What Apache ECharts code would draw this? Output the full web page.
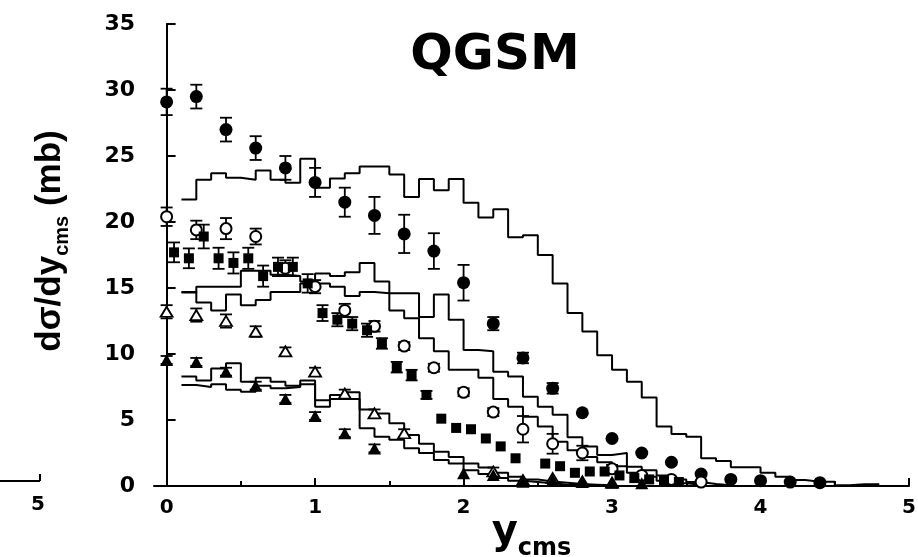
<!DOCTYPE html>
<html>
<head>
<meta charset="utf-8">
<script src="https://cdn.jsdelivr.net/npm/echarts@6/dist/echarts.min.js"></script>
<style>
  html, body { margin: 0; padding: 0; background: #fff; }
  #chart { width: 918px; height: 557px; }
</style>
</head>
<body>
<div id="chart"></div>
<script>
// data points (x, y, error)
var circX   = [0, 0.2, 0.4, 0.6, 0.8, 1.0, 1.2, 1.4, 1.6, 1.8, 2.0, 2.2, 2.4, 2.6, 2.8, 3.0, 3.2, 3.4, 3.6, 3.8, 4.0, 4.2, 4.4];
var circY   = [29.1, 29.5, 27.0, 25.6, 24.1, 23.0, 21.5, 20.5, 19.1, 17.8, 15.4, 12.3, 9.7, 7.4, 5.55, 3.6, 2.5, 1.8, 0.9, 0.5, 0.4, 0.3, 0.25];
var circErr = [1.0, 0.9, 0.9, 0.9, 0.9, 1.1, 1.1, 1.4, 1.45, 1.35, 1.35, 0.5, 0.4, 0.4, 0, 0, 0, 0, 0, 0, 0, 0, 0];

var openCircX   = [0, 0.2, 0.4, 0.6, 0.8, 1.0, 1.2, 1.4, 1.6, 1.8, 2.0, 2.2, 2.4, 2.6, 2.8, 3.0, 3.2, 3.4, 3.6];
var openCircY   = [20.4, 19.4, 19.5, 18.9, 16.5, 15.1, 13.3, 12.1, 10.6, 8.96, 7.1, 5.6, 4.3, 3.2, 2.5, 1.3, 0.8, 0.5, 0.3];
var openCircErr = [0.7, 0.7, 0.8, 0.6, 0.6, 0.5, 0.5, 0.4, 0.3, 0.3, 0.3, 0.3, 1.0, 0.75, 0.55, 0.3, 0, 0, 0];

var sqX   = [0.05, 0.15, 0.25, 0.35, 0.45, 0.55, 0.65, 0.75, 0.85, 0.95, 1.05, 1.15, 1.25, 1.35, 1.45, 1.55, 1.65, 1.75, 1.85, 1.95, 2.05, 2.15, 2.25, 2.35, 2.55, 2.65, 2.75, 2.85, 2.95, 3.05, 3.15, 3.25, 3.35, 3.45];
var sqY   = [17.7, 17.25, 18.9, 17.25, 16.9, 17.25, 15.9, 16.6, 16.6, 15.35, 13.1, 12.6, 12.3, 11.8, 10.8, 9.0, 8.4, 6.9, 5.1, 4.4, 4.3, 3.6, 3.0, 2.1, 1.7, 1.5, 1.0, 1.1, 1.1, 0.8, 0.6, 0.5, 0.4, 0.3];
var sqErr = [0.75, 0.75, 0.9, 0.8, 0.8, 0.8, 0.8, 0.7, 0.7, 0.7, 0.6, 0.5, 0.5, 0.5, 0.4, 0.4, 0.4, 0.3, 0, 0, 0, 0, 0, 0, 0, 0, 0, 0, 0, 0, 0, 0, 0, 0];

var openTriX   = [0, 0.2, 0.4, 0.6, 0.8, 1.0, 1.2, 1.4, 1.6, 2.2, 2.4, 2.6, 2.8, 3.0];
var openTriY   = [13.2, 12.95, 12.5, 11.7, 10.2, 8.66, 7.0, 5.5, 4.0, 1.1, 0.45, 0.6, 0.35, 0.25];
var openTriErr = [0.5, 0.5, 0.5, 0.4, 0.3, 0.3, 0.3, 0.3, 0.3, 0.3, 0, 0, 0, 0];

var triX   = [0, 0.2, 0.4, 0.6, 0.8, 1.0, 1.2, 1.4, 2.0, 2.2, 2.4, 2.6, 2.8, 3.0, 3.2];
var triY   = [9.55, 9.4, 8.66, 7.6, 6.6, 5.3, 4.0, 2.85, 0.96, 0.83, 0.33, 0.45, 0.3, 0.25, 0.2];
var triErr = [0.3, 0.3, 0.3, 0.3, 0.3, 0.3, 0.3, 0.3, 0, 0, 0, 0, 0, 0, 0];

// QGSM histograms, bins of 0.1 starting at 0.1
var binStart = 0.1, binWidth = 0.1;
var histA = [21.7, 23.2, 23.7, 23.35, 23.2, 23.9, 23.2, 22.98, 24.8, 22.6, 23.3, 23.7, 24.2, 24.2, 23.6, 21.9, 23.26, 22.4, 23.26, 21.46, 20.35, 20.96, 18.84, 19.0, 17.5, 15.35, 13.1, 11.7, 9.9, 8.8, 7.9, 6.7, 4.5, 3.94, 3.74, 2.1, 1.9, 1.42, 1.42, 1.0, 0.7, 0.45, 0.33, 0.33, 0.05, 0.13, 0.13];
var histB = [14.65, 15.1, 15.1, 15.1, 16.3, 16.3, 16.0, 15.9, 15.5, 16.1, 15.9, 16.2, 16.9, 15.5, 14.6, 14.6, 12.8, 14.5, 12.6, 10.3, 10.2, 8.66, 8.3, 6.77, 6.0, 5.4, 3.7, 3.0, 2.35, 2.5, 1.46, 1.2, 0.8, 0.5, 0.3, 0.15, 0.05];
var histC = [14.7, 13.9, 13.3, 14.5, 13.7, 14.1, 14.7, 14.7, 15.35, 15.35, 15.1, 14.4, 14.7, 14.6, 13.3, 12.7, 11.2, 10.2, 8.8, 8.8, 8.2, 6.6, 6.0, 5.25, 4.5, 3.36, 2.7, 2.2, 1.8, 1.5, 1.0, 0.7, 0.4, 0.2, 0.1];
var histD = [8.3, 8.0, 8.9, 9.3, 7.9, 8.2, 7.9, 7.6, 8.0, 6.5, 6.9, 7.1, 5.8, 5.5, 4.75, 3.86, 3.2, 2.6, 2.2, 1.7, 1.4, 1.0, 0.7, 0.5, 0.35, 0.25, 0.15, 0.1, 0.05];
var histE = [7.65, 7.5, 7.7, 7.3, 7.14, 7.6, 7.4, 7.5, 7.7, 6.0, 6.6, 6.6, 4.37, 3.74, 3.5, 2.86, 2.5, 1.97, 1.7, 1.2, 0.9, 0.6, 0.4, 0.3, 0.2, 0.1, 0.05];

var xMajor = [0, 1, 2, 3, 4, 5];
var xMinor = [0.5, 1.5, 2.5, 3.5, 4.5];

var font = 'DejaVu Sans';

function pts(xs, ys) {
  var d = [];
  for (var i = 0; i < xs.length; i++) d.push([xs[i], ys[i]]);
  return d;
}

function errs(xs, ys, es) {
  var d = [];
  for (var i = 0; i < xs.length; i++) {
    if (es[i] > 0) d.push([xs[i], ys[i] - es[i], ys[i] + es[i]]);
  }
  return d;
}

function stepData(vals) {
  var d = [];
  for (var i = 0; i < vals.length; i++) {
    d.push([+(binStart + i * binWidth).toFixed(2), vals[i]]);
  }
  d.push([+(binStart + vals.length * binWidth).toFixed(2), vals[vals.length - 1]]);
  return d;
}

function renderErr(params, api) {
  var x = api.value(0);
  var top = api.coord([x, api.value(2)]);
  var bot = api.coord([x, api.value(1)]);
  var w = 6;
  var st = { stroke: '#000', lineWidth: 1.8 };
  return {
    type: 'group',
    children: [
      { type: 'line', shape: { x1: top[0], y1: top[1], x2: bot[0], y2: bot[1] }, style: st },
      { type: 'line', shape: { x1: top[0] - w, y1: top[1], x2: top[0] + w, y2: top[1] }, style: st },
      { type: 'line', shape: { x1: bot[0] - w, y1: bot[1], x2: bot[0] + w, y2: bot[1] }, style: st }
    ]
  };
}

function histSeries(vals) {
  return {
    type: 'line', step: 'end', data: stepData(vals), symbol: 'none', z: 2,
    lineStyle: { color: '#000', width: 2 }, animation: false
  };
}

function errSeries(xs, ys, es) {
  return { type: 'custom', renderItem: renderErr, data: errs(xs, ys, es), z: 3, animation: false };
}

var myChart = echarts.init(document.getElementById('chart'));

var option = {
  backgroundColor: '#fff',
  animation: false,
  title: {
    text: 'QGSM',
    left: 490,
    textAlign: 'center',
    top: 26,
    textStyle: { fontFamily: font, fontWeight: 'bold', fontSize: 50, color: '#000' }
  },
  grid: { left: 154, right: 9, top: 24, bottom: 71, outerBoundsMode: 'none' },
  xAxis: [
    {
      type: 'value', min: -0.085, max: 5,
      name: '{a|y}{b|cms}',
      nameLocation: 'middle',
      nameGap: 27,
      nameMoveOverlap: false,
      nameTextStyle: {
        rich: {
          a: { fontFamily: font, fontWeight: 'bold', fontSize: 40, color: '#000', lineHeight: 40 },
          b: { fontFamily: font, fontWeight: 'bold', fontSize: 24, color: '#000', verticalAlign: 'top', padding: [24, 0, 0, 0], lineHeight: 24 }
        }
      },
      axisLine: { lineStyle: { color: '#000', width: 2 } },
      axisTick: { inside: true, length: 8, customValues: xMajor, lineStyle: { color: '#000', width: 2 } },
      axisLabel: { customValues: xMajor, margin: 12, fontFamily: font, fontWeight: 'bold', fontSize: 20, color: '#000' },
      splitLine: { show: false }
    },
    {
      type: 'value', min: -0.085, max: 5, position: 'bottom',
      axisLine: { show: false },
      axisTick: { inside: true, length: 5, customValues: xMinor, lineStyle: { color: '#000', width: 2 } },
      axisLabel: { show: false },
      splitLine: { show: false }
    }
  ],
  yAxis: {
    type: 'value', min: 0, max: 35, interval: 5,
    name: '{a|dσ/dy}{b|cms}{a| (mb)}',
    nameLocation: 'middle',
    nameRotate: 90,
    nameGap: 84,
    nameMoveOverlap: false,
    nameTextStyle: {
      padding: [0, 0, 0, 28],
      rich: {
        a: { fontFamily: 'Liberation Sans', fontWeight: 'bold', fontSize: 35, color: '#000', lineHeight: 40 },
        b: { fontFamily: 'Liberation Sans', fontWeight: 'bold', fontSize: 20, color: '#000', verticalAlign: 'top', padding: [22, 0, 0, 0], lineHeight: 20 }
      }
    },
    axisLine: { show: true, lineStyle: { color: '#000', width: 2 } },
    axisTick: { inside: true, length: 9, lineStyle: { color: '#000', width: 2 } },
    axisLabel: { margin: 19, fontFamily: font, fontWeight: 'bold', fontSize: 22, color: '#000' },
    splitLine: { show: false }
  },
  graphic: [
    { type: 'line', shape: { x1: 0, y1: 481, x2: 40, y2: 481 }, style: { stroke: '#000', lineWidth: 2 } },
    { type: 'line', shape: { x1: 40, y1: 481, x2: 40, y2: 474 }, style: { stroke: '#000', lineWidth: 2 } },
    { type: 'text', x: 38, y: 505, style: { text: '5', fill: '#000', font: 'bold 20px "DejaVu Sans"', align: 'center', verticalAlign: 'middle' } }
  ],
  series: [
    histSeries(histA),
    histSeries(histB),
    histSeries(histC),
    histSeries(histD),
    histSeries(histE),
    errSeries(circX, circY, circErr),
    errSeries(openCircX, openCircY, openCircErr),
    errSeries(sqX, sqY, sqErr),
    errSeries(openTriX, openTriY, openTriErr),
    errSeries(triX, triY, triErr),
    {
      type: 'scatter', data: pts(circX, circY), symbol: 'circle', symbolSize: 13, z: 4,
      itemStyle: { color: '#000', opacity: 1 }
    },
    {
      type: 'scatter', data: pts(openCircX, openCircY), symbol: 'circle', symbolSize: 11, z: 4,
      itemStyle: { color: '#fff', borderColor: '#000', borderWidth: 2, opacity: 1 }
    },
    {
      type: 'scatter', data: pts(sqX, sqY), symbol: 'rect', symbolSize: [10, 10], z: 4,
      itemStyle: { color: '#000', opacity: 1 }
    },
    {
      type: 'scatter', data: pts(openTriX, openTriY), symbol: 'triangle', symbolSize: [12, 10], z: 4,
      itemStyle: { color: '#fff', borderColor: '#000', borderWidth: 1.8, opacity: 1 }
    },
    {
      type: 'scatter', data: pts(triX, triY), symbol: 'triangle', symbolSize: [13, 12], z: 4,
      itemStyle: { color: '#000', opacity: 1 }
    }
  ]
};

myChart.setOption(option);
</script>
</body>
</html>
